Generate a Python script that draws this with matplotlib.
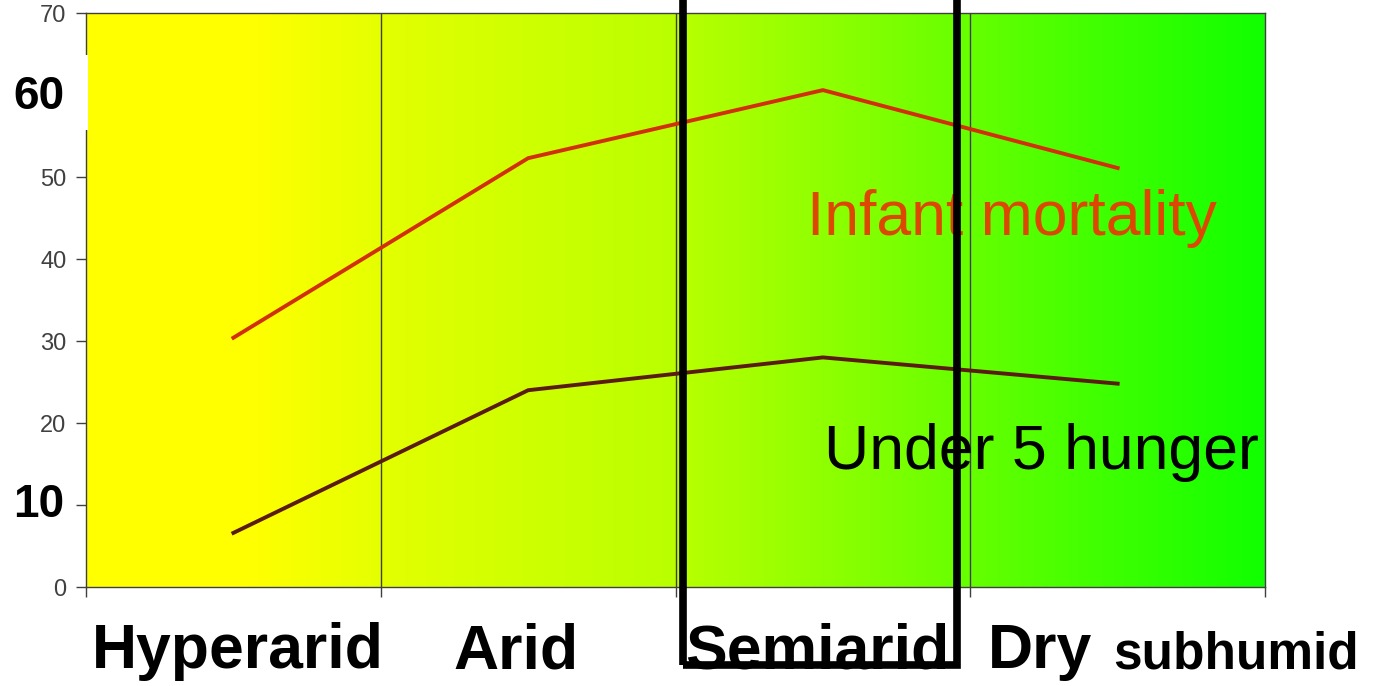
import numpy as np
import matplotlib
matplotlib.use("Agg")
import matplotlib.pyplot as plt
from matplotlib.patches import Rectangle

plt.rcParams['font.family'] = ['Liberation Sans', 'DejaVu Sans']

# Зони посушливості та показники
zones = ["Hyperarid", "Arid", "Semiarid", "Dry"]
infant_mortality = [30.4, 52.3, 60.6, 51.1]
under5_hunger = [6.6, 24.0, 28.0, 24.8]
yticks = [0, 10, 20, 30, 40, 50, 60, 70]

fig = plt.figure(figsize=(13.74, 6.86), dpi=100)
ax = fig.add_axes([0.0626, 0.1443, 0.8581, 0.8367])

# Фон: градієнт від жовтого до зеленого
frac = np.linspace(0, 1, 600)
red = np.interp(frac, [0, 0.14, 0.27, 0.5, 0.74, 1.0], [255, 255, 224, 185, 105, 16]) / 255
grad = np.zeros((1, len(frac), 3))
grad[0, :, 0] = red
grad[0, :, 1] = 1.0
ax.imshow(grad, extent=[0, len(zones), 0, 70], aspect='auto', zorder=0)

x = np.arange(len(zones)) + 0.5
ax.plot(x, infant_mortality, color='#d2300c', lw=2.8, zorder=3)
ax.plot(x, under5_hunger, color='#5a1c12', lw=2.8, zorder=3)

ax.set_xlim(0, len(zones))
ax.set_ylim(0, 70)
for b in range(1, len(zones)):
    ax.axvline(b, color='#404040', lw=1, zorder=2)

ax.set_xticks(range(len(zones) + 1))
ax.set_xticklabels([])
ax.set_yticks(yticks)
ax.set_yticklabels(['' if v in (10, 60) else str(v) for v in yticks])
ax.tick_params(axis='y', labelsize=17, labelcolor='#404040', color='#404040',
               length=7, width=1, pad=7)
ax.tick_params(axis='x', color='#404040', length=7, width=1)
for s in ax.spines.values():
    s.set_color('#404040')
    s.set_linewidth(1)

# Виділені значення на осі
fig.patches.append(Rectangle((0, 1 - 130 / 686), 88 / 1374, 75 / 686,
                             transform=fig.transFigure, facecolor='white',
                             edgecolor='none', zorder=5))
fig.text(39 / 1374, 1 - 97 / 686, "60", fontsize=33, fontweight='bold',
         ha='center', va='center', zorder=6)
ax.text(-0.16, 10, "10", fontsize=33, fontweight='bold', ha='center',
        va='center', clip_on=False)

ax.text(3.14, 45, "Infant mortality", fontsize=45, color='#dc4800',
        ha='center', va='center', zorder=4)
ax.text(3.24, 16.4, "Under 5 hunger", fontsize=45, color='black',
        ha='center', va='center', zorder=4)

# Підписи зон
label_x = [0.516, 1.46, 2.48]
for xi, name in zip(label_x, zones[:3]):
    ax.text(xi, -9.9, name, fontsize=45, fontweight='bold',
            ha='center', va='baseline', clip_on=False)
ax.text(3.237, -9.9, "Dry", fontsize=45, fontweight='bold', ha='center',
        va='baseline', clip_on=False)
ax.text(3.90, -9.9, "subhumid", fontsize=37, fontweight='bold', ha='center',
        va='baseline', clip_on=False)

# Рамка навколо зони Semiarid
ax.add_patch(Rectangle((2.025, -9.5), 0.93, 90, fill=False, edgecolor='black',
                       lw=5.5, clip_on=False, zorder=7))

fig.savefig("out.png", dpi=100)
